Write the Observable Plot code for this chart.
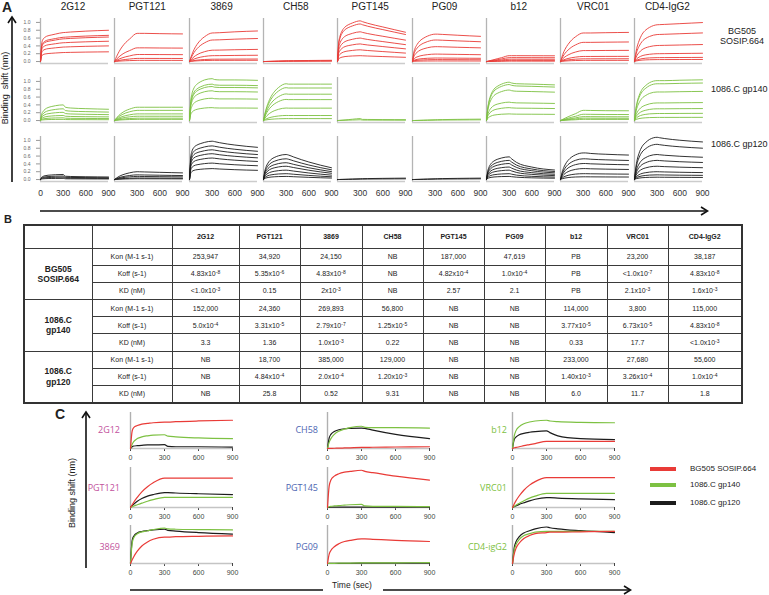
<!DOCTYPE html>
<html><head><meta charset="utf-8">
<script src="https://cdn.jsdelivr.net/npm/d3@7"></script>
<script src="https://cdn.jsdelivr.net/npm/@observablehq/plot@0.6"></script>
<style>
html,body{margin:0;padding:0;background:#fff;}
#fig{position:relative;width:769px;height:595px;overflow:hidden;background:#fff;font-family:"Liberation Sans",Arial,sans-serif;color:#222;}
.lbl{position:absolute;white-space:nowrap;line-height:1.15;}
table.kin{position:absolute;left:23px;top:224px;border-collapse:collapse;table-layout:fixed;width:718px;border:2px solid #333;font-size:7px;color:#222;}
table.kin td{border:1px solid #3a3a3a;text-align:center;padding:0;overflow:hidden;white-space:nowrap;}
table.kin tr.hd td{font-weight:bold;}
table.kin td.grp{font-weight:bold;font-size:8.5px;line-height:1.2;}
table.kin sup{font-size:5px;vertical-align:2.5px;line-height:0;}
</style></head>
<body><div id="fig"></div>
<script>
// ---------------- DATA ----------------
const T = [0, 15, 30, 60, 100, 150, 200, 300, 330, 400, 600, 900];
const antibodies = ["2G12", "PGT121", "3869", "CH58", "PGT145", "PG09", "b12", "VRC01", "CD4-IgG2"];
const envNames = ["BG505 SOSIP.664", "1086.C gp140", "1086.C gp120"];

// Panel A: response (nm) at t=300 s for each concentration curve, per antibody
const levelsBG505 = [
  [0.74, 0.62, 0.58, 0.48, 0.37, 0.23],
  [0.72, 0.35, 0.18, 0.08, 0.03],
  [0.73, 0.55, 0.29, 0.15, 0.06, 0.03],
  [0.02, 0.012, 0.006],
  [1.04, 0.96, 0.76, 0.60, 0.45, 0.30, 0.15],
  [0.70, 0.55, 0.38, 0.19, 0.09, 0.05, 0.015],
  [0.15, 0.10, 0.06, 0.03, 0.01],
  [0.73, 0.49, 0.28, 0.13, 0.07, 0.03],
  [0.94, 0.69, 0.41, 0.20, 0.10, 0.05]
];
// relative curve profile at the times in T (1 at t=300)
const shapesBG505 = [
  [0, 0.6, 0.75, 0.84, 0.89, 0.92, 0.95, 1, 1.005, 1.02, 1.05, 1.08],
  [0, 0.1, 0.19, 0.35, 0.52, 0.68, 0.8, 1, 1, 1, 0.99, 0.98],
  [0, 0.12, 0.23, 0.42, 0.6, 0.76, 0.87, 1, 1.003, 1.01, 1.04, 1.07],
  [0, 0.05, 0.1, 0.2, 0.33, 0.5, 0.67, 1, 1.05, 1.15, 1.35, 1.6],
  [0, 0.45, 0.6, 0.75, 0.85, 0.91, 0.95, 1, 0.98, 0.94, 0.85, 0.72],
  [0, 0.3, 0.45, 0.62, 0.76, 0.86, 0.93, 1, 1, 0.99, 0.96, 0.92],
  [0, 0.05, 0.1, 0.2, 0.33, 0.5, 0.66, 1, 1, 1, 0.99, 0.98],
  [0, 0.13, 0.25, 0.43, 0.6, 0.76, 0.87, 1, 1, 1, 1.01, 1.02],
  [0, 0.2, 0.36, 0.56, 0.74, 0.86, 0.93, 1, 1.003, 1.01, 1.03, 1.06]
];
const levelsGP140 = [
  [0.40, 0.30, 0.21, 0.13, 0.07, 0.03],
  [0.34, 0.26, 0.17, 0.11, 0.06, 0.03],
  [1.07, 0.93, 0.87, 0.76, 0.57, 0.33],
  [0.94, 0.84, 0.68, 0.54, 0.32, 0.13, 0.05],
  [0.05, 0.02],
  [0.02, 0.01],
  [0.98, 0.92, 0.78, 0.47, 0.33, 0.17],
  [0.26, 0.16, 0.10, 0.06, 0.03],
  [1.02, 0.94, 0.73, 0.45, 0.30, 0.18, 0.08]
];
const shapesGP140 = [
  [0, 0.4, 0.55, 0.72, 0.83, 0.9, 0.95, 1, 0.85, 0.8, 0.76, 0.72],
  [0, 0.12, 0.22, 0.4, 0.58, 0.75, 0.86, 1, 1, 1, 1, 1],
  [0, 0.45, 0.62, 0.78, 0.87, 0.93, 0.97, 1, 0.98, 0.97, 0.97, 0.96],
  [0, 0.15, 0.28, 0.47, 0.65, 0.8, 0.9, 1, 0.99, 0.99, 0.99, 0.99],
  [0, 0.05, 0.1, 0.2, 0.33, 0.5, 0.67, 1, 0.6, 0.55, 0.5, 0.45],
  [0, 0.05, 0.1, 0.2, 0.33, 0.5, 0.67, 1, 1.1, 1.25, 1.5, 1.8],
  [0, 0.3, 0.48, 0.68, 0.82, 0.9, 0.95, 1, 0.98, 0.96, 0.95, 0.93],
  [0, 0.06, 0.12, 0.23, 0.37, 0.53, 0.68, 1, 1, 0.99, 0.97, 0.96],
  [0, 0.25, 0.42, 0.62, 0.78, 0.88, 0.95, 1, 1, 1, 1.01, 1.02]
];
const levelsGP120 = [
  [0.13, 0.09, 0.06, 0.03],
  [0.20, 0.12, 0.08, 0.04, 0.02],
  [0.98, 0.86, 0.76, 0.66, 0.55, 0.42, 0.28],
  [0.64, 0.53, 0.43, 0.34, 0.24, 0.15, 0.08],
  [0.02, 0.01],
  [0.02, 0.01],
  [0.58, 0.49, 0.41, 0.32, 0.24, 0.15, 0.08],
  [0.68, 0.53, 0.41, 0.28, 0.15, 0.07],
  [1.08, 0.90, 0.64, 0.49, 0.34, 0.20, 0.12, 0.06]
];
const shapesGP120 = [
  [0, 0.45, 0.6, 0.75, 0.85, 0.9, 0.95, 1, 0.65, 0.6, 0.55, 0.5],
  [0, 0.12, 0.22, 0.4, 0.58, 0.74, 0.86, 1, 0.99, 0.97, 0.92, 0.85],
  [0, 0.55, 0.72, 0.84, 0.9, 0.94, 0.97, 1, 0.99, 0.96, 0.9, 0.84],
  [0, 0.3, 0.47, 0.66, 0.8, 0.89, 0.95, 1, 0.98, 0.9, 0.7, 0.47],
  [0, 0.05, 0.1, 0.2, 0.33, 0.5, 0.67, 1, 1.1, 1.25, 1.5, 1.8],
  [0, 0.05, 0.1, 0.2, 0.33, 0.5, 0.67, 1, 1.1, 1.25, 1.5, 1.8],
  [0, 0.35, 0.52, 0.7, 0.82, 0.9, 0.95, 1, 0.92, 0.75, 0.55, 0.42],
  [0, 0.2, 0.35, 0.55, 0.72, 0.85, 0.93, 1, 1, 0.98, 0.95, 0.92],
  [0, 0.25, 0.42, 0.62, 0.78, 0.88, 0.95, 1, 0.99, 0.97, 0.93, 0.89]
];

// Panel B: kinetics table
const tableCols = ["2G12", "PGT121", "3869", "CH58", "PGT145", "PG09", "b12", "VRC01", "CD4-IgG2"];
const paramLabels = ["Kon (M-1 s-1)", "Koff (s-1)", "KD (nM)"];
const groupLabels = ["BG505<br>SOSIP.664", "1086.C<br>gp140", "1086.C<br>gp120"];
const bg505Kon = ["253,947", "34,920", "24,150", "NB", "187,000", "47,619", "PB", "23,200", "38,187"];
const bg505Koff = ["4.83x10^-8", "5.35x10^-6", "4.83x10^-8", "NB", "4.82x10^-4", "1.0x10^-4", "PB", "<1.0x10^-7", "4.83x10^-8"];
const bg505KD = ["<1.0x10^-3", "0.15", "2x10^-3", "NB", "2.57", "2.1", "PB", "2.1x10^-3", "1.6x10^-3"];
const gp140Kon = ["152,000", "24,360", "269,893", "56,800", "NB", "NB", "114,000", "3,800", "115,000"];
const gp140Koff = ["5.0x10^-4", "3.31x10^-5", "2.79x10^-7", "1.25x10^-5", "NB", "NB", "3.77x10^-5", "6.73x10^-5", "4.83x10^-8"];
const gp140KD = ["3.3", "1.36", "1.0x10^-3", "0.22", "NB", "NB", "0.33", "17.7", "<1.0x10^-3"];
const gp120Kon = ["NB", "18,700", "385,000", "129,000", "NB", "NB", "233,000", "27,680", "55,600"];
const gp120Koff = ["NB", "4.84x10^-4", "2.0x10^-4", "1.20x10^-3", "NB", "NB", "1.40x10^-3", "3.26x10^-4", "1.0x10^-4"];
const gp120KD = ["NB", "25.8", "0.52", "9.31", "NB", "NB", "6.0", "11.7", "1.8"];

// Panel C: highest-concentration curves (relative units) at times T
const cNames = ["2G12", "PGT121", "3869", "CH58", "PGT145", "PG09", "b12", "VRC01", "CD4-igG2"];
const cRed = [
  [0, 0.5, 0.6, 0.65, 0.69, 0.71, 0.73, 0.75, 0.75, 0.76, 0.78, 0.8],
  [0, 0.07, 0.14, 0.26, 0.4, 0.53, 0.63, 0.75, 0.75, 0.75, 0.75, 0.75],
  [0, 0.1, 0.19, 0.33, 0.47, 0.58, 0.65, 0.71, 0.71, 0.72, 0.73, 0.74],
  [0, 0.002, 0.004, 0.007, 0.01, 0.015, 0.02, 0.03, 0.031, 0.035, 0.042, 0.05],
  [0, 0.55, 0.7, 0.8, 0.86, 0.9, 0.92, 0.95, 0.92, 0.89, 0.8, 0.7],
  [0, 0.25, 0.35, 0.45, 0.53, 0.59, 0.62, 0.66, 0.66, 0.65, 0.62, 0.59],
  [0, 0.02, 0.03, 0.05, 0.08, 0.11, 0.14, 0.2, 0.2, 0.2, 0.2, 0.2],
  [0, 0.09, 0.17, 0.3, 0.44, 0.57, 0.66, 0.76, 0.76, 0.76, 0.76, 0.76],
  [0, 0.25, 0.4, 0.55, 0.67, 0.75, 0.8, 0.83, 0.84, 0.84, 0.85, 0.86]
];
const cGreen = [
  [0, 0.12, 0.2, 0.28, 0.33, 0.36, 0.38, 0.39, 0.35, 0.33, 0.3, 0.28],
  [0, 0.02, 0.04, 0.07, 0.11, 0.16, 0.2, 0.26, 0.26, 0.26, 0.26, 0.26],
  [0, 0.55, 0.7, 0.8, 0.85, 0.88, 0.91, 0.95, 0.93, 0.92, 0.91, 0.9],
  [0, 0.18, 0.28, 0.4, 0.49, 0.55, 0.59, 0.63, 0.6, 0.59, 0.59, 0.58],
  [0, 0.02, 0.03, 0.04, 0.05, 0.06, 0.07, 0.08, 0.04, 0.03, 0.03, 0.02],
  [0, 0.002, 0.004, 0.006, 0.008, 0.01, 0.012, 0.015, 0.016, 0.017, 0.019, 0.021],
  [0, 0.35, 0.5, 0.62, 0.7, 0.75, 0.78, 0.8, 0.78, 0.76, 0.74, 0.73],
  [0, 0.03, 0.06, 0.11, 0.17, 0.24, 0.29, 0.36, 0.36, 0.36, 0.36, 0.36],
  [0, 0.35, 0.5, 0.65, 0.75, 0.8, 0.84, 0.86, 0.86, 0.86, 0.86, 0.86]
];
const cBlack = [
  [0, 0.05, 0.07, 0.08, 0.09, 0.1, 0.1, 0.11, 0.06, 0.05, 0.05, 0.04],
  [0, 0.05, 0.09, 0.16, 0.23, 0.29, 0.33, 0.38, 0.38, 0.37, 0.35, 0.33],
  [0, 0.62, 0.74, 0.82, 0.86, 0.88, 0.9, 0.92, 0.89, 0.87, 0.83, 0.79],
  [0, 0.3, 0.4, 0.48, 0.53, 0.56, 0.57, 0.58, 0.57, 0.52, 0.4, 0.28],
  [0, 0.004, 0.006, 0.008, 0.01, 0.01, 0.01, 0.012, 0.012, 0.012, 0.012, 0.012],
  [0, 0.001, 0.002, 0.003, 0.004, 0.005, 0.006, 0.008, 0.008, 0.009, 0.01, 0.011],
  [0, 0.25, 0.32, 0.39, 0.43, 0.46, 0.48, 0.5, 0.45, 0.36, 0.28, 0.25],
  [0, 0.02, 0.04, 0.08, 0.12, 0.17, 0.21, 0.25, 0.25, 0.24, 0.22, 0.2],
  [0, 0.42, 0.58, 0.72, 0.82, 0.88, 0.93, 0.98, 0.96, 0.93, 0.88, 0.83]
];

// ---------------- STYLE / LAYOUT ----------------
const envColors = ["#e93b37", "#7dc142", "#1c1c1c"];
const cLabelColors = ["#c2519c", "#4d66b2", "#7dc142"];
const fig = document.getElementById("fig");

function place(el, left, top) {
  el.style.position = "absolute";
  el.style.left = left + "px";
  el.style.top = top + "px";
  fig.appendChild(el);
}
function addText(html, x, y, o = {}) {
  const d = document.createElement("div");
  d.className = "lbl";
  d.innerHTML = html;
  d.style.fontSize = (o.size || 9) + "px";
  d.style.fontWeight = o.weight || "normal";
  d.style.color = o.color || "#222";
  if (o.family) d.style.fontFamily = o.family;
  d.style.textAlign = o.align || "center";
  const tx = o.anchor === "start" ? "0" : o.anchor === "end" ? "-100%" : "-50%";
  d.style.transform = `translate(${tx},-50%)` + (o.rotate ? ` rotate(${o.rotate}deg)` : "");
  place(d, x, y);
}
const transparent = {background: "transparent", overflow: "visible"};

// ---------------- PANEL A ----------------
const envLevels = [levelsBG505, levelsGP140, levelsGP120];
const envShapes = [shapesBG505, shapesGP140, shapesGP120];
const aW = 68, aH = 45, aStep = 74.3, aRowStep = 59, aLeft = 40, aTop = 18;
for (let j = 0; j < 3; j++) {
  for (let i = 0; i < 9; i++) {
    const data = envLevels[j][i].flatMap((L, k) => T.map((t, n) => ({t, v: L * envShapes[j][i][n], k})));
    const svg = Plot.plot({
      width: aW, height: aH,
      marginLeft: 0, marginRight: 0, marginTop: 0, marginBottom: 0,
      style: {...transparent, fontSize: "8.5px", fontFamily: "Liberation Sans, Arial, sans-serif", color: "#333"},
      x: {domain: [0, 900], axis: j === 2 ? "bottom" : null, ticks: i === 0 ? [0, 300, 600, 900] : [300, 600, 900],
          tickSize: 0, tickPadding: 8, label: null, tickFormat: d3.format("d")},
      y: {domain: [-0.05, 1.1], axis: i === 0 ? "left" : null, ticks: [0, 0.2, 0.4, 0.6, 0.8, 1.0],
          tickFormat: d3.format(".1f"), tickSize: 4, tickPadding: 6, label: null},
      marks: [
        Plot.ruleX([0], {stroke: "#b4b4b4", strokeWidth: 1.3}),
        Plot.ruleY([-0.05], {stroke: "#cccccc", strokeWidth: 1.3}),
        Plot.line(data, {x: "t", y: "v", z: "k", stroke: envColors[j], strokeWidth: 0.9, curve: "monotone-x"})
      ]
    });
    svg.querySelectorAll('[aria-label^="y-axis"] text').forEach(t => { t.style.fontSize = "5px"; t.style.fill = "#666"; });
    svg.querySelectorAll('[aria-label^="y-axis"] line, [aria-label^="y-axis"] path').forEach(l => { l.style.stroke = "#999"; });
    svg.querySelectorAll('[aria-label^="x-axis"] text').forEach(t => { t.style.fontSize = "8.5px"; t.style.fill = "#333"; });
    place(svg, aLeft + aStep * i, aTop + aRowStep * j);
  }
}
antibodies.forEach((a, i) => addText(a, aLeft + aStep * i + 33, 7, {size: 10}));
addText("BG505<br>SOSIP.664", 742, 36, {size: 9});
addText(envNames[1], 711, 89, {size: 9, anchor: "start"});
addText(envNames[2], 711, 144, {size: 9, anchor: "start"});
addText("Binding&nbsp; shift (nm)", 5, 88, {size: 9, rotate: -90});
addText("A", 7, 7, {size: 14, weight: "bold", family: "Liberation Sans, Arial"});

// ---------------- PANEL B ----------------
addText("B", 8, 219, {size: 11, weight: "bold"});
const colWidths = [68, 80, 67, 61, 62, 61, 61, 61, 62, 61, 74];
const groups = [[bg505Kon, bg505Koff, bg505KD], [gp140Kon, gp140Koff, gp140KD], [gp120Kon, gp120Koff, gp120KD]];
const fmt = v => v.replace(/\^(-?\d+)/, "<sup>$1</sup>");
let html = "<colgroup>" + colWidths.map(w => `<col style="width:${w}px">`).join("") + "</colgroup>";
html += `<tr class="hd" style="height:23px"><td></td><td></td>` + tableCols.map(c => `<td>${c}</td>`).join("") + "</tr>";
groups.forEach((g, gi) => {
  g.forEach((vals, p) => {
    html += `<tr style="height:17.2px">` + (p === 0 ? `<td rowspan="3" class="grp">${groupLabels[gi]}</td>` : "") +
      `<td>${paramLabels[p]}</td>` + vals.map(v => `<td>${fmt(v)}</td>`).join("") + "</tr>";
  });
});
const table = document.createElement("table");
table.className = "kin";
table.innerHTML = html;
fig.appendChild(table);

// ---------------- PANEL C ----------------
const cColX = [130, 327, 512], cRowY = [412, 467, 525], cRowH = [36, 40, 38], cW = 102;
const cLabelX = [120, 318, 507], cLabelY = [430, 488, 547];
for (let idx = 0; idx < 9; idx++) {
  const col = Math.floor(idx / 3), row = idx % 3;
  const series = [["gp120", cBlack[idx], envColors[2]], ["gp140", cGreen[idx], envColors[1]], ["BG505", cRed[idx], envColors[0]]];
  const marks = [
    Plot.ruleX([0], {stroke: "#b0b0b0", strokeWidth: 1.4}),
    Plot.ruleY([0], {stroke: "#c4c4c4", strokeWidth: 1.6})
  ];
  series.forEach(([name, vals, color]) => {
    marks.push(Plot.line(T.map((t, n) => ({t, v: vals[n]})), {x: "t", y: "v", stroke: color, strokeWidth: 1.2, curve: "monotone-x"}));
  });
  const svg = Plot.plot({
    width: cW, height: cRowH[row],
    marginLeft: 0, marginRight: 0, marginTop: 0, marginBottom: 0,
    style: {...transparent, fontSize: "7px", fontFamily: "Liberation Sans, Arial, sans-serif", color: "#444"},
    x: {domain: [0, 900], axis: "bottom", ticks: [0, 300, 600, 900], tickSize: 3, tickPadding: 4, label: null, tickFormat: d3.format("d")},
    y: {domain: [0, 1.02], axis: null},
    marks
  });
  svg.querySelectorAll('[aria-label^="x-axis"] text').forEach(t => { t.style.fontSize = "7px"; });
  place(svg, cColX[col], cRowY[row]);
  addText(cNames[idx], cLabelX[col], cLabelY[row], {size: 9, anchor: "end", color: cLabelColors[col], family: "Open Sans, Liberation Sans, sans-serif"});
}
addText("C", 60, 414, {size: 14, weight: "bold"});
addText("Binding shift (nm)", 72, 493, {size: 9, rotate: -90});
addText("Time (sec)", 352, 586, {size: 8.5});
// legend
const legendY = [469, 485, 503];
envNames.forEach((n, k) => addText(n, 690, legendY[k], {size: 8, anchor: "start"}));

// ---------------- ARROWS & LEGEND SWATCHES ----------------
const ns = "http://www.w3.org/2000/svg";
const ov = document.createElementNS(ns, "svg");
ov.setAttribute("width", 769); ov.setAttribute("height", 595);
ov.style.position = "absolute"; ov.style.left = "0"; ov.style.top = "0"; ov.style.pointerEvents = "none";
function seg(x1, y1, x2, y2, stroke = "#111", w = 1.6) {
  const l = document.createElementNS(ns, "line");
  l.setAttribute("x1", x1); l.setAttribute("y1", y1); l.setAttribute("x2", x2); l.setAttribute("y2", y2);
  l.setAttribute("stroke", stroke); l.setAttribute("stroke-width", w);
  ov.appendChild(l);
}
function chevron(pts, w = 1.6) {
  const p = document.createElementNS(ns, "polyline");
  p.setAttribute("points", pts); p.setAttribute("fill", "none"); p.setAttribute("stroke", "#111");
  p.setAttribute("stroke-width", w); p.setAttribute("stroke-linejoin", "miter");
  ov.appendChild(p);
}
// A vertical
seg(12, 182, 12, 17.5); chevron("8,23 12,17 16,23");
// A horizontal
seg(40, 211, 707, 211); chevron("701,207 707.5,211 701,215");
// C vertical
seg(86, 568, 86, 412); chevron("82,418 86,412 90,418");
// C horizontal
seg(130, 590, 323, 590); seg(383, 590, 630, 590); chevron("624,586 630.5,590 624,594");
// legend swatches
envColors.forEach((c, k) => seg(650, legendY[k], 676, legendY[k], c, 4));
fig.appendChild(ov);
</script>
</body></html>
